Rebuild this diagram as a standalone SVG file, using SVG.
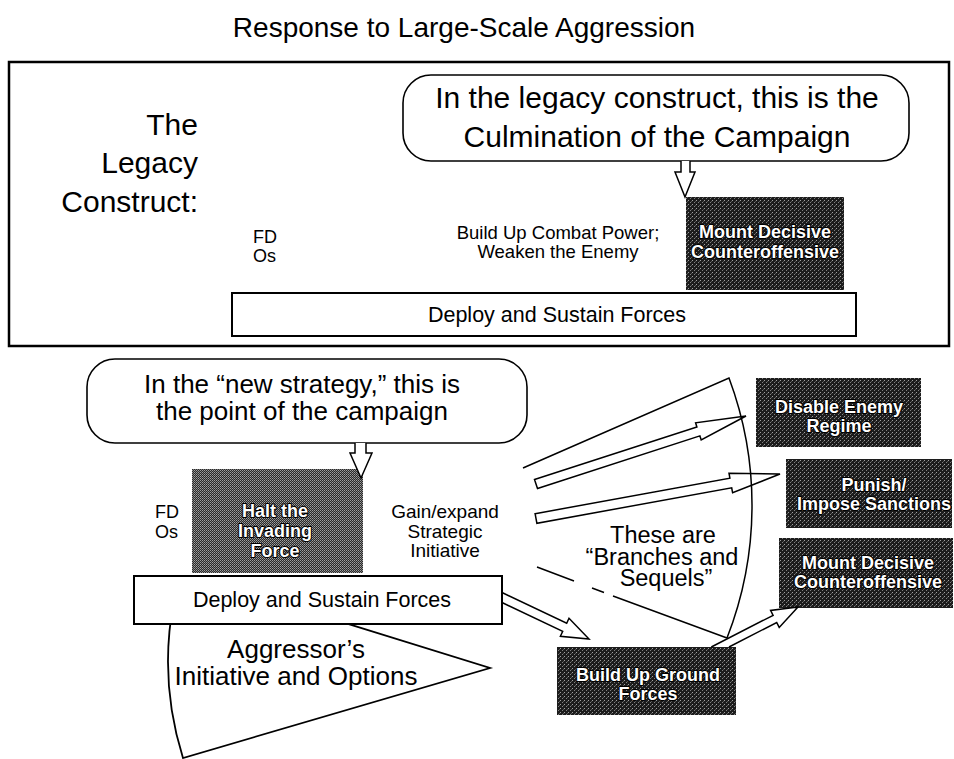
<svg xmlns="http://www.w3.org/2000/svg" width="954" height="759" viewBox="0 0 954 759">
<defs>
<pattern id="dk" width="4" height="4" patternUnits="userSpaceOnUse">
<rect width="4" height="4" fill="#1c1c1c"/>
<rect x="0" y="0" width="1" height="1" fill="#a0a0a0"/>
<rect x="2" y="2" width="1" height="1" fill="#808080"/>
<rect x="3" y="1" width="1" height="1" fill="#555555"/>
</pattern>
<pattern id="md" width="2" height="2" patternUnits="userSpaceOnUse">
<rect width="2" height="2" fill="#2a2a2a"/>
<rect width="1" height="1" fill="#a0a0a0"/>
<rect x="1" y="1" width="1" height="1" fill="#7c7c7c"/>
</pattern>
</defs>
<style>
text{font-family:"Liberation Sans",Arial,Helvetica,sans-serif;fill:#000}
.m{text-anchor:middle}
.e{text-anchor:end}
.dk{fill:url(#dk);stroke:none}
.wt{fill:#fff;font-weight:bold;font-size:18px;text-anchor:middle;stroke:#000;stroke-width:2;paint-order:stroke;stroke-linejoin:round}
.ln{fill:none;stroke:#000;stroke-width:1.5}
.ar{fill:none;stroke:#000;stroke-width:1.5;stroke-linejoin:miter}
.dn{fill:#fff;stroke:#000;stroke-width:1.5;stroke-linejoin:miter}
.co{fill:#fff;stroke:#000;stroke-width:1.6}
.wb{fill:#fff;stroke:#000;stroke-width:2}
</style>
<rect width="954" height="759" fill="#fff"/>
<text id="title" x="464" y="37" font-size="28" class="m">Response to Large-Scale Aggression</text>

<g id="legacy-frame">
<rect x="9" y="62" width="940" height="284" fill="none" stroke="#000" stroke-width="2.5"/>
<text x="198" y="135" font-size="30" class="e">The</text>
<text x="198" y="173" font-size="30" class="e">Legacy</text>
<text x="198" y="212" font-size="30" class="e">Construct:</text>
</g>

<g id="legacy-callout">
<rect class="co" x="403" y="75" width="506" height="86" rx="28" ry="28"/>
<text x="657" y="108" font-size="30" class="m">In the legacy construct, this is the</text>
<text x="657" y="147" font-size="30" class="m">Culmination of the Campaign</text>
</g>

<g id="legacy-fdos">
<text x="253" y="243" font-size="18">FD</text>
<text x="253" y="262" font-size="18">Os</text>
</g>

<g id="legacy-buildup">
<text x="558" y="239" font-size="18.5" class="m">Build Up Combat Power;</text>
<text x="558" y="258" font-size="18.5" class="m">Weaken the Enemy</text>
</g>

<g id="legacy-counteroffensive">
<rect class="dk" x="686" y="197" width="158" height="93"/>
<text class="wt" x="765" y="238">Mount Decisive</text>
<text class="wt" x="765" y="258">Counteroffensive</text>
</g>

<g id="legacy-deploy">
<rect class="wb" x="232" y="293" width="624" height="43"/>
<text x="557" y="322" font-size="21.5" class="m">Deploy and Sustain Forces</text>
</g>

<g id="new-callout">
<rect class="co" x="87" y="359" width="440" height="84" rx="28" ry="28"/>
<text x="302" y="393" font-size="26" class="m">In the “new strategy,” this is</text>
<text x="302" y="420" font-size="26" class="m">the point of the campaign</text>
</g>

<g id="new-fdos">
<text x="155" y="518" font-size="18">FD</text>
<text x="155" y="538" font-size="18">Os</text>
</g>

<g id="halt">
<rect x="192" y="469" width="171" height="104" fill="url(#md)"/>
<text class="wt" x="275" y="517">Halt the</text>
<text class="wt" x="275" y="537">Invading</text>
<text class="wt" x="275" y="557">Force</text>
</g>

<g id="gain">
<text x="445" y="518" font-size="19" class="m">Gain/expand</text>
<text x="445" y="538" font-size="19" class="m">Strategic</text>
<text x="445" y="557" font-size="19" class="m">Initiative</text>
</g>

<g id="aggressor">
<path d="M200,578 L490,668 L183,758 A322,322 0 0 1 174,600 Z" fill="#fff" stroke="#000" stroke-width="1.8" stroke-linejoin="miter"/>
<text x="296" y="658" font-size="26" class="m">Aggressor’s</text>
<text x="296" y="685" font-size="26" class="m">Initiative and Options</text>
</g>

<g id="new-deploy">
<rect class="wb" x="134" y="576" width="368" height="48"/>
<text x="322" y="607" font-size="21.5" class="m">Deploy and Sustain Forces</text>
</g>

<g id="branches">
<path class="ln" d="M523,468 L729,378 A364,364 0 0 1 727,638"/>
<path class="ln" d="M537,567 L574,581 M592,588 L604,592.5 M613,596 L727,638"/>
<text x="663" y="543" font-size="23.5" class="m">These are</text>
<text x="662" y="564.5" font-size="23.5" class="m">“Branches and</text>
<text x="666" y="586" font-size="23.5" class="m">Sequels”</text>
</g>

<g id="disable">
<rect class="dk" x="756" y="378" width="165" height="69"/>
<text class="wt" x="839" y="413">Disable Enemy</text>
<text class="wt" x="839" y="432">Regime</text>
</g>

<g id="punish">
<rect class="dk" x="786" y="459" width="166" height="69"/>
<text class="wt" x="874" y="491">Punish/</text>
<text class="wt" x="874" y="510">Impose Sanctions</text>
</g>

<g id="counteroffensive">
<rect class="dk" x="779" y="538" width="174" height="70"/>
<text class="wt" x="868" y="569">Mount Decisive</text>
<text class="wt" x="868" y="588">Counteroffensive</text>
</g>

<g id="buildup-ground">
<rect class="dk" x="557" y="647" width="179" height="68"/>
<text class="wt" x="648" y="681">Build Up Ground</text>
<text class="wt" x="648" y="700">Forces</text>
</g>

<g id="connectors">
<path class="dn" d="M681,161 L681,172 L675,172 L685,197 L695,172 L690,172 L690,161"/>
<path class="dn" d="M355,443 L355,453 L350,453 L361,478 L372,453 L366,453 L366,443"/>
<path class="ar" d="M534.5,479.5 L696.9,426.9 L695.6,422.8 L746,416 L701.2,440 L699.9,435.9 L537.5,488.5 Z"/>
<path class="ar" d="M535.1,513.7 L729.9,478.2 L729,473.2 L780,474 L732.6,492.8 L731.7,487.8 L536.9,523.3 Z"/>
<path class="ar" d="M502,592.5 L566.7,623.2 L569,618.3 L589,639 L560.4,636.3 L562.7,631.4 L502,602.5"/>
<path class="ar" d="M711.3,647 L773.1,615.3 L770.6,610.4 L798,607 L779.2,627.4 L776.7,622.5 L729,647"/>
</g>
</svg>
